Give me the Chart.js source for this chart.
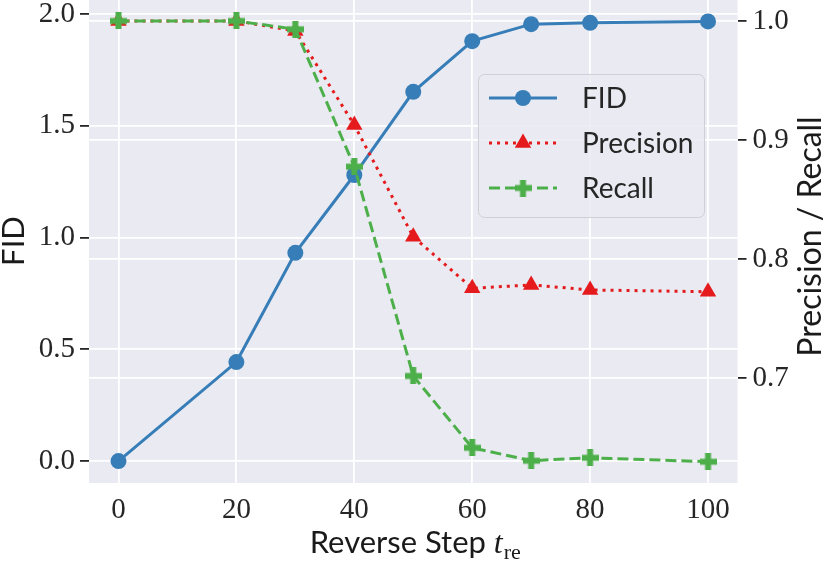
<!DOCTYPE html>
<html><head><meta charset="utf-8">
<script src="https://cdn.jsdelivr.net/npm/chart.js@4.4.1/dist/chart.umd.min.js"></script>
<style>html,body{margin:0;padding:0;background:#fff;}</style>
</head><body>
<canvas id="c" width="830" height="563"></canvas>
<script>
// ---- data ----
const steps = [0, 20, 30, 40, 50, 60, 70, 80, 100];
const fid = [0.0, 0.443, 0.932, 1.28, 1.652, 1.879, 1.955, 1.961, 1.967];
const precision = [1.0, 1.0, 0.9916, 0.9126, 0.8187, 0.7754, 0.7782, 0.774, 0.7725];
const recall = [1.0, 1.0, 0.993, 0.8776, 0.7017, 0.6414, 0.6305, 0.633, 0.6297];
const xTicks = [0, 20, 40, 60, 80, 100];
const fidTicks = [0, 0.5, 1.0, 1.5, 2.0];
const prTicks = [0.7, 0.8, 0.9, 1.0];
const seriesNames = ['FID', 'Precision', 'Recall'];

// ---- styles ----
const C_FID = '#377eb8', C_PR = '#e41a1c', C_RE = '#4daf4a';
const TXT = '#262626';
const DOT = [3, 5], DASH = [11, 5];

function plusCanvas(size, arm, color) {
  const c = document.createElement('canvas');
  c.width = size; c.height = size;
  const g = c.getContext('2d');
  g.fillStyle = color;
  const o = (size - arm) / 2;
  g.fillRect(o, 0, arm, size);
  g.fillRect(0, o, size, arm);
  return c;
}
const plusImg = plusCanvas(17, 6, C_RE);

function pts(xs, ys) { return xs.map((x, i) => ({ x: x, y: ys[i] })); }
function zeroPad(s) { s.paddingTop = 0; s.paddingBottom = 0; s.paddingLeft = 0; s.paddingRight = 0; }

const bgPlugin = {
  id: 'bg',
  beforeDraw(chart) {
    const { ctx, chartArea: a } = chart;
    ctx.save();
    ctx.fillStyle = '#ffffff';
    ctx.fillRect(0, 0, chart.width, chart.height);
    ctx.fillStyle = '#EAEAF2';
    ctx.fillRect(a.left, a.top, a.right - a.left, a.bottom - a.top);
    ctx.restore();
  }
};

function drawMarker(ctx, kind, x, y) {
  ctx.save();
  if (kind === 0) {
    ctx.fillStyle = C_FID;
    ctx.beginPath(); ctx.arc(x, y, 8, 0, Math.PI * 2); ctx.fill();
  } else if (kind === 1) {
    ctx.fillStyle = C_PR;
    const r = 9.5;
    ctx.beginPath();
    for (let k = 0; k < 3; k++) {
      const ang = k * 2 * Math.PI / 3;
      const px = x + Math.sin(ang) * r, py = y - Math.cos(ang) * r;
      if (k === 0) ctx.moveTo(px, py); else ctx.lineTo(px, py);
    }
    ctx.closePath(); ctx.fill();
  } else {
    ctx.drawImage(plusImg, x - 8.5, y - 8.5);
  }
  ctx.restore();
}

const annoPlugin = {
  id: 'anno',
  afterDraw(chart) {
    const ctx = chart.ctx;
    ctx.save();
    // legend box
    const bx = 478.5, by = 74.5, bw = 226, bh = 143, rr = 6;
    ctx.beginPath();
    ctx.moveTo(bx + rr, by);
    ctx.arcTo(bx + bw, by, bx + bw, by + bh, rr);
    ctx.arcTo(bx + bw, by + bh, bx, by + bh, rr);
    ctx.arcTo(bx, by + bh, bx, by, rr);
    ctx.arcTo(bx, by, bx + bw, by, rr);
    ctx.closePath();
    ctx.fillStyle = 'rgba(234,234,242,0.85)';
    ctx.fill();
    ctx.strokeStyle = 'rgba(204,204,210,0.9)';
    ctx.lineWidth = 1;
    ctx.stroke();
    const rows = [98, 143, 188];
    const cols = [C_FID, C_PR, C_RE];
    const dashes = [[], DOT, DASH];
    for (let i = 0; i < 3; i++) {
      ctx.save();
      ctx.strokeStyle = cols[i];
      ctx.lineWidth = 3;
      ctx.setLineDash(dashes[i]);
      ctx.beginPath(); ctx.moveTo(489, rows[i]); ctx.lineTo(557, rows[i]); ctx.stroke();
      ctx.restore();
      drawMarker(ctx, i, 523, rows[i]);
      ctx.fillStyle = TXT;
      ctx.font = '28px Lato';
      ctx.textAlign = 'left';
      ctx.textBaseline = 'middle';
      ctx.fillText(seriesNames[i], 582, rows[i] + 1);
    }
    // axis titles
    ctx.fillStyle = '#1a1a1a';
    ctx.textAlign = 'center';
    ctx.textBaseline = 'alphabetic';
    ctx.font = '31px Lato';
    ctx.save();
    ctx.translate(24, 241); ctx.rotate(-Math.PI / 2);
    ctx.fillText('FID', 0, 0);
    ctx.restore();
    ctx.font = '32px Lato';
    ctx.save();
    ctx.translate(821, 236.5); ctx.rotate(-Math.PI / 2);
    ctx.fillText('Precision / Recall', 0, 0);
    ctx.restore();
    // x title with math subscript
    const p1 = 'Reverse Step ', p2 = 't', p3 = 're';
    const f1 = '31px Lato', f2 = 'italic 32px "Liberation Serif"', f3 = '22px "Liberation Serif"';
    ctx.textAlign = 'left';
    ctx.font = f1; const w1 = ctx.measureText(p1).width;
    ctx.font = f2; const w2 = ctx.measureText(p2).width;
    ctx.font = f3; const w3 = ctx.measureText(p3).width;
    const cx = (chart.chartArea.left + chart.chartArea.right) / 2 + 2;
    let x0 = cx - (w1 + w2 + w3 + 1) / 2;
    const base = 553;
    ctx.font = f1; ctx.fillText(p1, x0, base); x0 += w1;
    ctx.font = f2; ctx.fillText(p2, x0, base); x0 += w2 + 1;
    ctx.font = f3; ctx.fillText(p3, x0, base + 6);
    ctx.restore();
  }
};

const tickFont = { family: 'Liberation Serif', size: 29 };

new Chart(document.getElementById('c'), {
  type: 'line',
  data: {
    datasets: [
      {
        label: seriesNames[0], data: pts(steps, fid), yAxisID: 'y',
        borderColor: C_FID, backgroundColor: C_FID, borderWidth: 3,
        pointStyle: 'circle', pointRadius: 8, pointBorderWidth: 0,
        pointBackgroundColor: C_FID, order: 3, tension: 0
      },
      {
        label: seriesNames[1], data: pts(steps, precision), yAxisID: 'y2',
        borderColor: C_PR, backgroundColor: C_PR, borderWidth: 3, borderDash: DOT,
        pointStyle: 'triangle', pointRadius: 9.5, pointBorderWidth: 0,
        pointBackgroundColor: C_PR, order: 2, tension: 0
      },
      {
        label: seriesNames[2], data: pts(steps, recall), yAxisID: 'y2',
        borderColor: C_RE, backgroundColor: C_RE, borderWidth: 3, borderDash: DASH,
        pointStyle: plusImg, pointRadius: 8.5, pointBorderWidth: 0,
        pointBackgroundColor: C_RE, order: 1, tension: 0
      }
    ]
  },
  options: {
    responsive: false,
    animation: false,
    devicePixelRatio: 1,
    layout: { padding: 0, autoPadding: false },
    plugins: { legend: { display: false }, tooltip: { enabled: false } },
    scales: {
      x: {
        type: 'linear', min: -5, max: 105,
        afterFit(s) { s.height = 80; zeroPad(s); },
        afterBuildTicks(s) { s.ticks = xTicks.map(v => ({ value: v })); },
        grid: { color: '#ffffff', lineWidth: 1.8, drawTicks: false },
        border: { display: false },
        ticks: { font: tickFont, color: TXT, padding: 10, maxRotation: 0, callback: v => String(v) }
      },
      y: {
        type: 'linear', position: 'left', min: -0.098, max: 2.063,
        afterFit(s) { s.width = 89; zeroPad(s); },
        afterBuildTicks(s) { s.ticks = fidTicks.map(v => ({ value: v })); },
        grid: { color: '#ffffff', lineWidth: 1.8, tickColor: TXT, tickLength: 9, tickWidth: 1.8 },
        border: { display: false },
        ticks: { font: tickFont, color: TXT, padding: 5, callback: v => v.toFixed(1) }
      },
      y2: {
        type: 'linear', position: 'right', min: 0.6118, max: 1.0176,
        afterFit(s) { s.width = 92.5; zeroPad(s); },
        afterBuildTicks(s) { s.ticks = prTicks.map(v => ({ value: v })); },
        grid: { color: '#ffffff', lineWidth: 1.8, tickColor: TXT, tickLength: 9, tickWidth: 1.8, drawOnChartArea: true },
        border: { display: false },
        ticks: { font: tickFont, color: TXT, padding: 6, callback: v => v.toFixed(1) }
      }
    }
  },
  plugins: [bgPlugin, annoPlugin]
});
</script>
</body></html>
